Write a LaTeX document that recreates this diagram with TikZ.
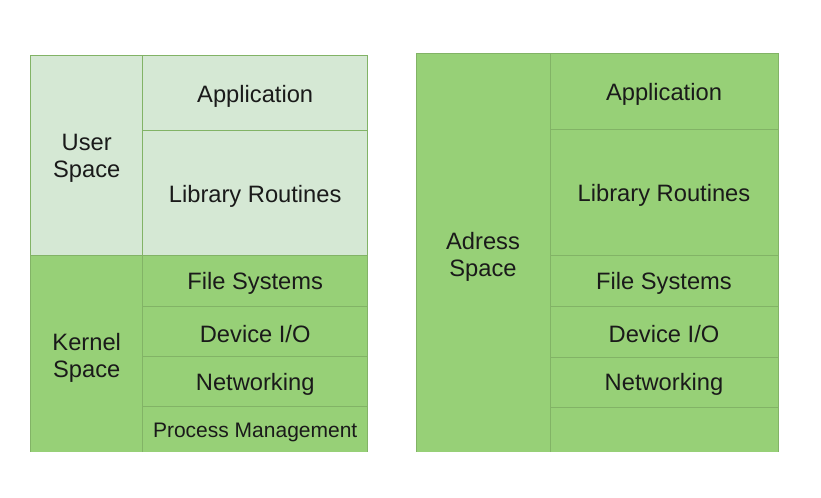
\documentclass[tikz,border=0pt]{standalone}
\usepackage{fontspec}
\setmainfont{Liberation Sans}
\definecolor{userfill}{HTML}{D5E8D4}
\definecolor{kernfill}{HTML}{97D077}
\definecolor{gridline}{HTML}{82B366}
\definecolor{inktext}{HTML}{1A1A1A}
\tikzset{
  cell/.style={rectangle, draw=gridline, line width=1bp, inner sep=0pt, outer sep=0pt},
  userc/.style={cell, fill=userfill},
  kernc/.style={cell, fill=kernfill},
  celltext/.style={inner sep=0pt, align=center, text=inktext,
    font=\fontsize{23.7bp}{27bp}\selectfont},
  smalltext/.style={font=\fontsize{21bp}{25bp}\selectfont}
}
% \cellbox{name}{x1}{y1}{x2}{y2}{fill style}{text style}{text}
\newcommand\cellbox[8]{%
  \node[#6, minimum width={(#4-#2)*1bp}, minimum height={(#5-#3)*1bp}]
    (#1) at ({(#2+#4)/2},{(#3+#5)/2}) {};
  \node[celltext, #7] (#1-txt) at ([yshift=-2.5bp]#1.center) {#8};}
\begin{document}
\begin{tikzpicture}[x=1bp, y=-1bp]
\useasboundingbox[fill=white] (0,0) rectangle (821,498);
\begin{scope}
  % the stacks run off at the bottom edge
  \clip (0,0) rectangle (821,451.7);
  % layered user/kernel view
  \cellbox{user}{30.7}{56}{142.7}{256}{userc}{}{User\\Space}
  \cellbox{kernel}{30.7}{256}{142.7}{454}{kernc}{}{Kernel\\Space}
  \cellbox{app}{142.7}{56}{367.7}{131}{userc}{}{Application}
  \cellbox{lib}{142.7}{131}{367.7}{256}{userc}{}{Library Routines}
  \cellbox{fs}{142.7}{256}{367.7}{306}{kernc}{}{File Systems}
  \cellbox{dev}{142.7}{306}{367.7}{356.5}{kernc}{}{Device I/O}
  \cellbox{net}{142.7}{356.5}{367.7}{406.5}{kernc}{}{Networking}
  \cellbox{proc}{142.7}{406.5}{367.7}{454}{kernc}{smalltext}{Process Management}
  % single address space view
  \cellbox{addr}{416}{54}{550}{454}{kernc}{}{Adress\\Space}
  \cellbox{appB}{550}{54}{778}{130}{kernc}{}{Application}
  \cellbox{libB}{550}{130}{778}{256}{kernc}{}{Library Routines}
  \cellbox{fsB}{550}{256}{778}{306.7}{kernc}{}{File Systems}
  \cellbox{devB}{550}{306.7}{778}{357.3}{kernc}{}{Device I/O}
  \cellbox{netB}{550}{357.3}{778}{407.3}{kernc}{}{Networking}
  \cellbox{restB}{550}{407.3}{778}{454}{kernc}{}{}
\end{scope}
\end{tikzpicture}
\end{document}
